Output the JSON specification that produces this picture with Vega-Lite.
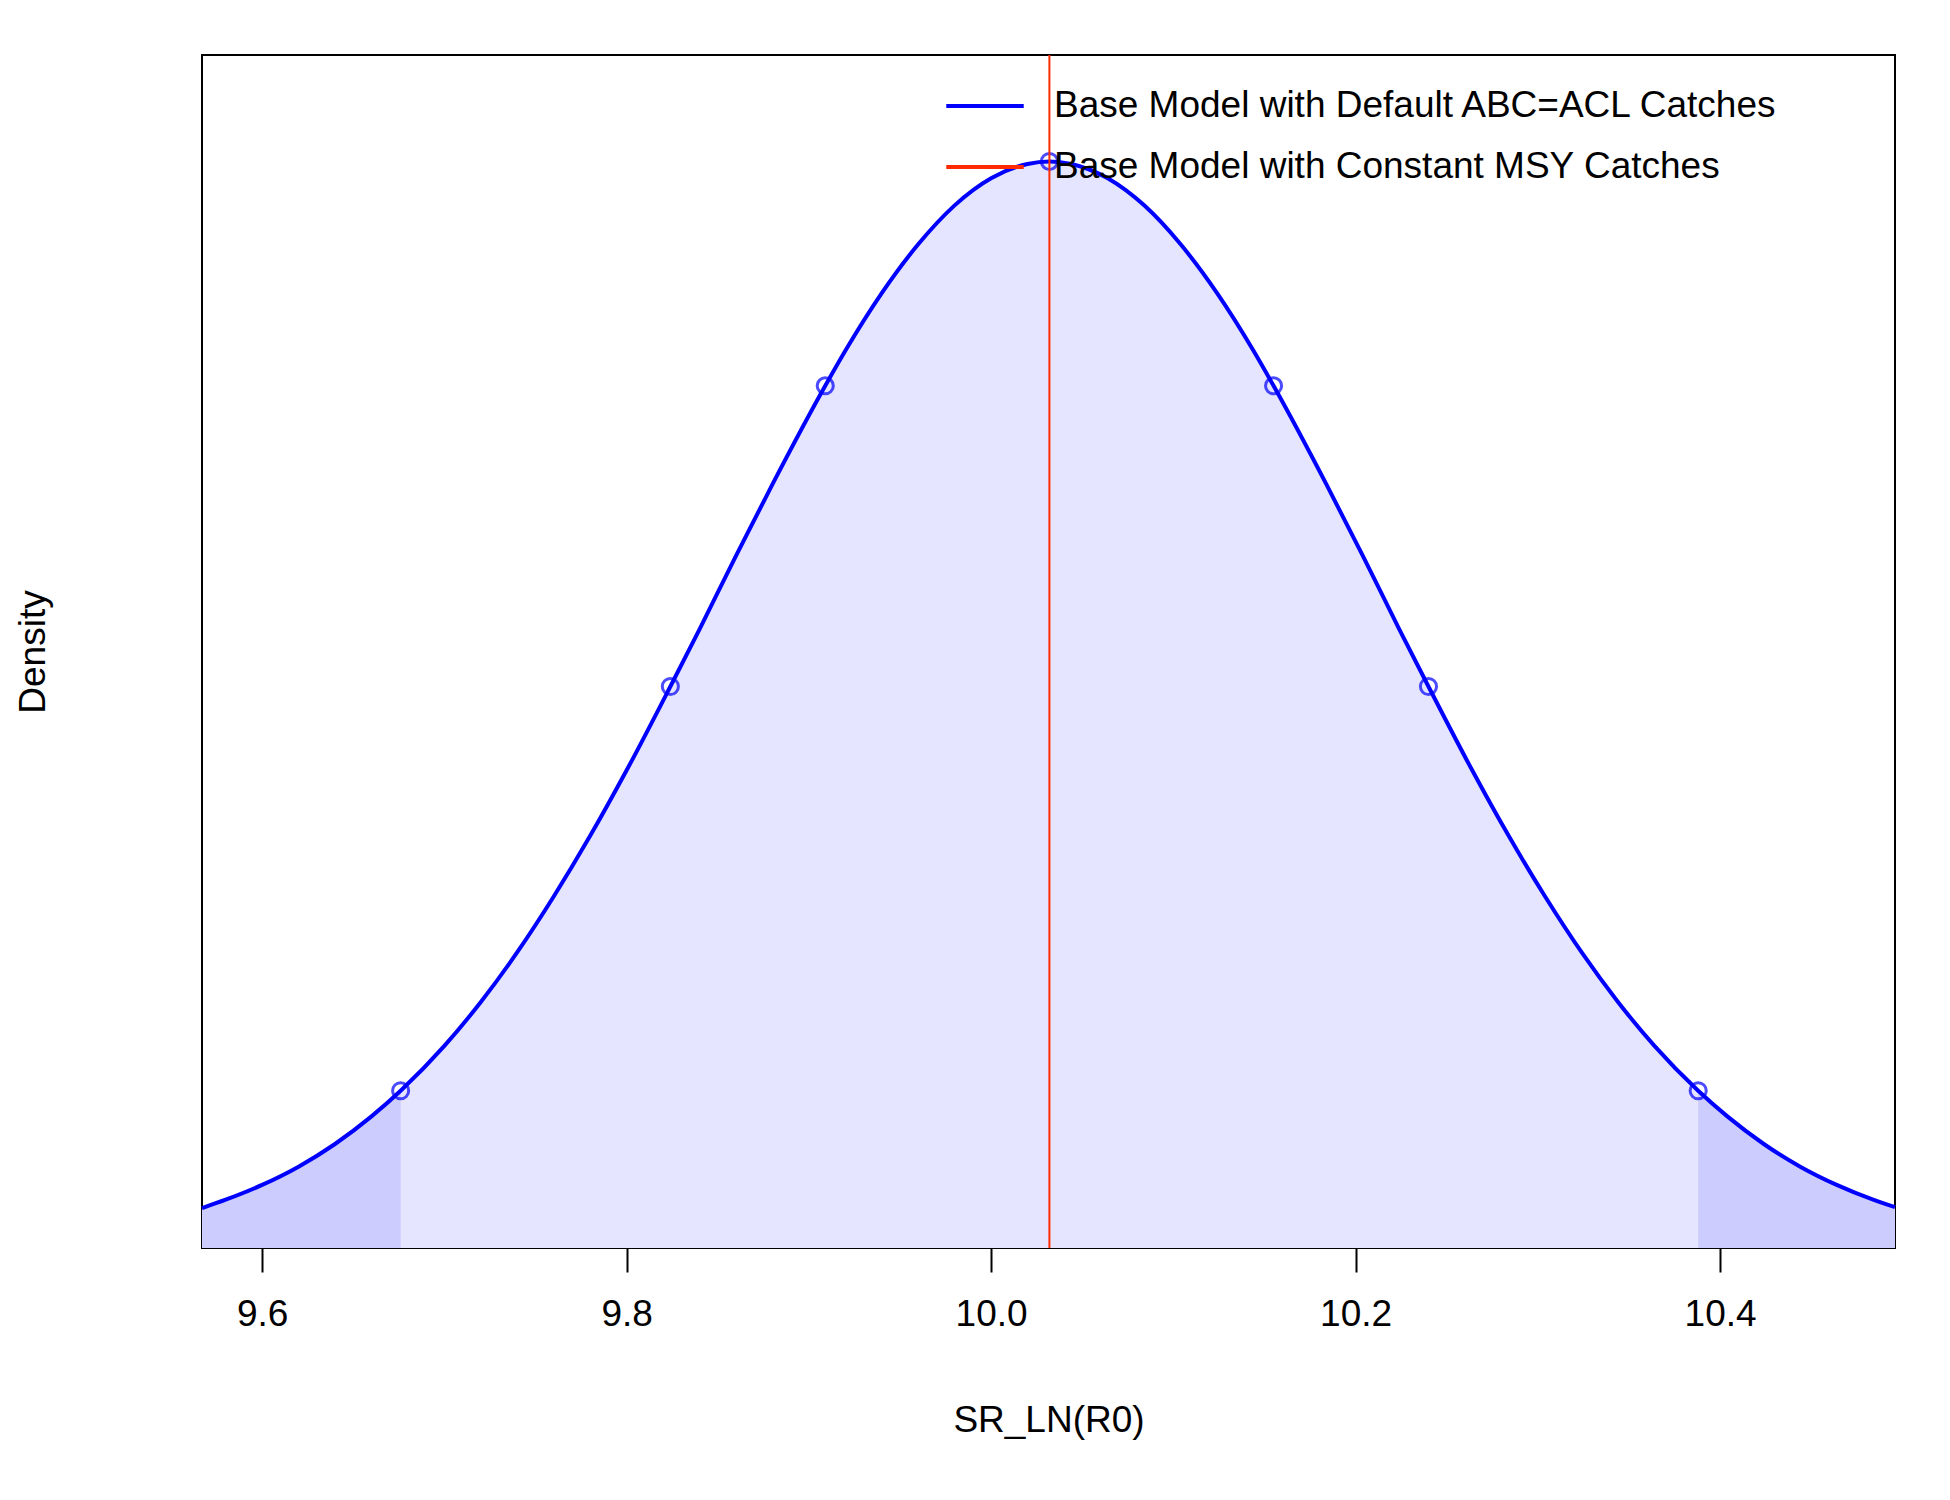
{
  "$schema": "https://vega.github.io/schema/vega-lite/v6.json",
  "width": 1693,
  "height": 1193,
  "autosize": "none",
  "padding": {"left": 202, "top": 55, "right": 55, "bottom": 252},
  "background": "white",
  "config": {
    "view": {"stroke": "black", "strokeWidth": 2},
    "font": "Liberation Sans",
    "axis": {"grid": false, "domain": false, "labelFont": "Liberation Sans", "titleFont": "Liberation Sans", "titleFontWeight": "normal", "labelColor": "black", "titleColor": "black"}
  },
  "datasets": {
    "dens": [
      {"x": 9.567, "d": 0.081, "tail": "L"},
      {"x": 9.58, "d": 0.098, "tail": "L"},
      {"x": 9.6, "d": 0.128, "tail": "L"},
      {"x": 9.62, "d": 0.165, "tail": "L"},
      {"x": 9.64, "d": 0.211, "tail": "L"},
      {"x": 9.66, "d": 0.267, "tail": "L"},
      {"x": 9.676, "d": 0.319, "tail": "L", "pt": true},
      {"x": 9.7, "d": 0.41},
      {"x": 9.72, "d": 0.499},
      {"x": 9.74, "d": 0.6},
      {"x": 9.76, "d": 0.713},
      {"x": 9.78, "d": 0.836},
      {"x": 9.8, "d": 0.969},
      {"x": 9.824, "d": 1.139, "pt": true},
      {"x": 9.84, "d": 1.255},
      {"x": 9.86, "d": 1.404},
      {"x": 9.88, "d": 1.549},
      {"x": 9.909, "d": 1.749, "pt": true},
      {"x": 9.92, "d": 1.82},
      {"x": 9.94, "d": 1.937},
      {"x": 9.96, "d": 2.036},
      {"x": 9.98, "d": 2.115},
      {"x": 10.0, "d": 2.17},
      {"x": 10.02, "d": 2.199},
      {"x": 10.032, "d": 2.204, "pt": true},
      {"x": 10.044, "d": 2.199},
      {"x": 10.064, "d": 2.17},
      {"x": 10.084, "d": 2.115},
      {"x": 10.104, "d": 2.036},
      {"x": 10.124, "d": 1.937},
      {"x": 10.144, "d": 1.82},
      {"x": 10.155, "d": 1.749, "pt": true},
      {"x": 10.184, "d": 1.549},
      {"x": 10.204, "d": 1.404},
      {"x": 10.224, "d": 1.255},
      {"x": 10.24, "d": 1.139, "pt": true},
      {"x": 10.264, "d": 0.969},
      {"x": 10.284, "d": 0.836},
      {"x": 10.304, "d": 0.713},
      {"x": 10.324, "d": 0.6},
      {"x": 10.344, "d": 0.499},
      {"x": 10.364, "d": 0.41},
      {"x": 10.388, "d": 0.319, "tail": "R", "pt": true},
      {"x": 10.404, "d": 0.267, "tail": "R"},
      {"x": 10.424, "d": 0.211, "tail": "R"},
      {"x": 10.444, "d": 0.165, "tail": "R"},
      {"x": 10.464, "d": 0.128, "tail": "R"},
      {"x": 10.484, "d": 0.098, "tail": "R"},
      {"x": 10.496, "d": 0.083, "tail": "R"}
    ],
    "med": [{"x": 10.032}]
  },
  "data": {"name": "dens"},
  "encoding": {
    "x": {"field": "x", "type": "quantitative", "scale": {"domain": [9.567, 10.496], "nice": false, "zero": false},
      "axis": {"title": "SR_LN(R0)", "values": [9.6, 9.8, 10.0, 10.2, 10.4], "format": ".1f", "tickSize": 24, "tickWidth": 2, "tickColor": "black", "labelFontSize": 37, "labelPadding": 24, "titleFontSize": 37, "titlePadding": 70}},
    "y": {"field": "d", "type": "quantitative", "scale": {"domain": [0, 2.42], "nice": false},
      "axis": {"title": "Density", "labels": false, "ticks": false, "titleFontSize": 37, "titlePadding": 150}}
  },
  "layer": [
    {"mark": {"type": "area", "color": "#e5e5ff"}},
    {"transform": [{"filter": "datum.tail != null"}], "mark": {"type": "area", "color": "#ccccff"},
      "encoding": {"detail": {"field": "tail"}, "y": {"field": "d", "type": "quantitative", "stack": null}}},
    {"mark": {"type": "line", "strokeWidth": 4, "interpolate": "monotone"},
      "encoding": {"color": {"datum": "Base Model with Default ABC=ACL Catches", "type": "nominal",
        "scale": {"domain": ["Base Model with Default ABC=ACL Catches", "Base Model with Constant MSY Catches"], "range": ["#0000ff", "#ff2a00"]},
        "legend": {"title": null, "orient": "none", "legendX": 742, "legendY": 10, "symbolType": "stroke", "symbolSize": 6000, "symbolStrokeWidth": 4, "labelFontSize": 37, "labelFont": "Liberation Sans", "labelColor": "black", "labelLimit": 0, "rowPadding": 2, "labelOffset": 28}}}},
    {"transform": [{"filter": "datum.pt"}], "mark": {"type": "point", "shape": "circle", "size": 260, "strokeWidth": 3, "filled": false, "color": "#0000ff"}},
    {"data": {"name": "med"}, "mark": {"type": "rule", "strokeWidth": 2},
      "encoding": {"x": {"field": "x", "type": "quantitative"}, "y": null, "color": {"datum": "Base Model with Constant MSY Catches", "type": "nominal"}}}
  ]
}
